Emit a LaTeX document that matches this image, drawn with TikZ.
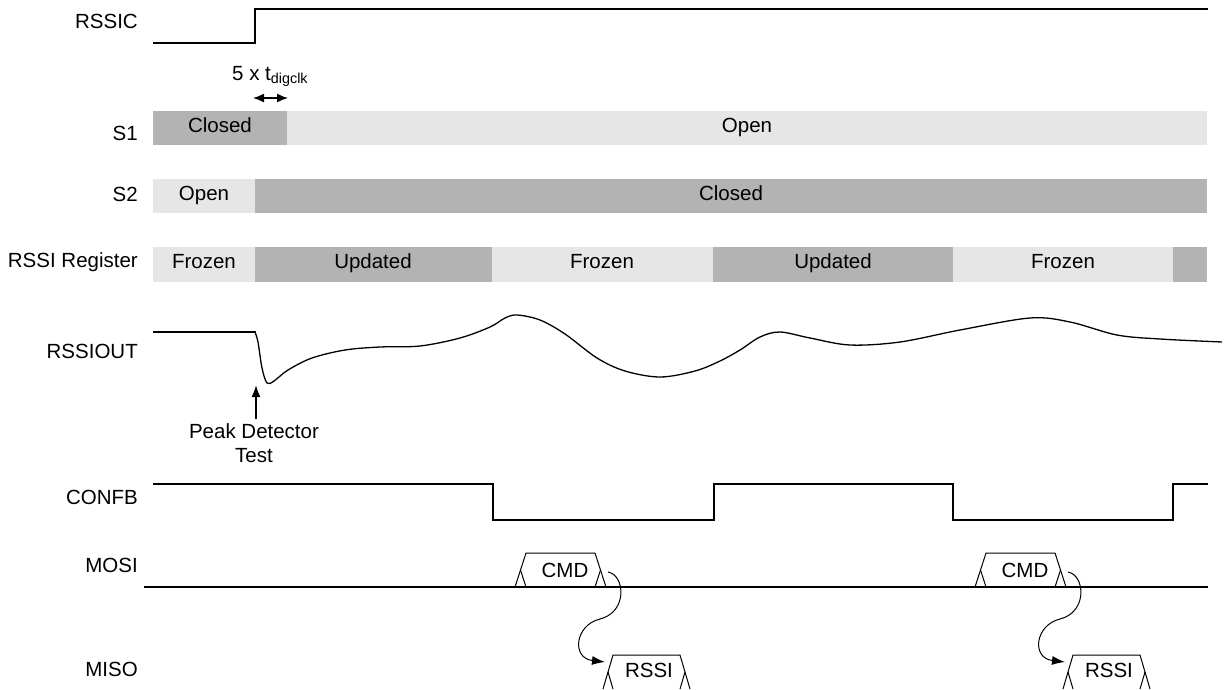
\documentclass[tikz,border=0pt]{standalone}
\usepackage{fontspec}
\setmainfont{Liberation Sans}
\usetikzlibrary{arrows.meta}
\definecolor{darkbar}{HTML}{B3B3B3}
\definecolor{lightbar}{HTML}{E6E6E6}
\begin{document}
\begin{tikzpicture}[x=1pt,y=-1pt,
  every node/.style={font=\fontsize{20.5}{24}\selectfont, inner sep=0pt},
  lbl/.style={anchor=base east},
  bartext/.style={anchor=base},
  sig/.style={line width=2.2pt, line join=miter},
  wave/.style={line width=1.3pt},
  bus/.style={line width=1pt},
  dark/.style={fill=darkbar},
  light/.style={fill=lightbar}]
\useasboundingbox (0,0) rectangle (1225,689);

% labels
\node[lbl] (lRSSIC) at (138,28) {RSSIC};
\node[lbl] (lS1) at (138,140) {S1};
\node[lbl] (lS2) at (138,201) {S2};
\node[lbl] (lREG) at (138,267) {RSSI Register};
\node[lbl] (lOUT) at (138,358) {RSSIOUT};
\node[lbl] (lCONFB) at (138,504) {CONFB};
\node[lbl] (lMOSI) at (138,572) {MOSI};
\node[lbl] (lMISO) at (138,676) {MISO};

% RSSIC
\draw[sig] (153,43) -- (255,43) -- (255,9) -- (1208,9);

% 5 x tdigclk
\node[anchor=base west] (tdig) at (232,80) {5 x t\textsubscript{digclk}};
\coordinate (da) at (253,98);
\coordinate (db) at (288,98);
\draw[line width=1.4pt, {Latex[length=11pt,width=9pt]}-{Latex[length=11pt,width=9pt]}] (da) -- (db);

% S1
\path[dark] (153,111) rectangle (287,145);
\path[light] (287,111) rectangle (1207,145);
\node[bartext] (s1a) at (220,132) {Closed};
\node[bartext] (s1b) at (747,132) {Open};

% S2
\path[light] (153,179) rectangle (255,213);
\path[dark] (255,179) rectangle (1207,213);
\node[bartext] (s2a) at (204,200) {Open};
\node[bartext] (s2b) at (731,200) {Closed};

% RSSI Register
\path[light] (153,247) rectangle (255,282);
\path[dark] (255,247) rectangle (492,282);
\path[light] (492,247) rectangle (713,282);
\path[dark] (713,247) rectangle (953,282);
\path[light] (953,247) rectangle (1173,282);
\path[dark] (1173,247) rectangle (1207,282);
\node[bartext] (r1) at (204,268) {Frozen};
\node[bartext] (r2) at (373,268) {Updated};
\node[bartext] (r3) at (602,268) {Frozen};
\node[bartext] (r4) at (833,268) {Updated};
\node[bartext] (r5) at (1063,268) {Frozen};

% RSSIOUT
\draw[sig] (153,332) -- (256,332);
\draw[wave] plot[smooth, tension=0.55] coordinates {
 (255,332) (258,342) (262,368) (267,383) (274,381) (288,370) (312,358) (345,350)
 (380,347) (420,346) (460,338) (490,327) (505,318) (517,315) (540,320) (565,334)
 (597,358) (625,371) (660,377) (695,371) (720,361) (740,350) (760,337) (780,332)
 (810,338) (850,345) (900,342) (960,330) (1030,318) (1070,322) (1117,335)
 (1160,339) (1222,342)};

% Peak detector arrow
\node[anchor=base] (pd1) at (254,438) {Peak Detector};
\node[anchor=base] (pd2) at (254,462) {Test};
\coordinate (pdtip) at (256,385);
\draw[line width=1.8pt, -{Latex[length=12pt,width=9pt]}] (pd1.north -| pdtip) ++(0,-4) -- (pdtip);

% CONFB
\draw[sig] (153,484) -- (493,484) -- (493,520) -- (714,520) -- (714,484)
  -- (953,484) -- (953,520) -- (1173,520) -- (1173,484) -- (1208,484);

% MOSI baseline
\draw[sig] (144,587) -- (1208,587);

% CMD / RSSI bus boxes
\foreach \dx/\i in {0/1,460/2} {
  \begin{scope}[xshift=\dx]
    \draw[bus, line join=round] (515,587) -- (526,553) -- (595,553) -- (606,587);
    \draw[bus] (520.5,570) -- (526,587);
    \draw[bus] (600.5,570) -- (595,587);
    \node[anchor=base] (cmd\i) at (565,577) {CMD};
    \coordinate (cmdout\i) at (608,572);
    \draw[bus, line join=round] (603,689) -- (613,655) -- (680,655) -- (690,689);
    \draw[bus] (608,672) -- (613,689);
    \draw[bus] (685,672) -- (680,689);
    \node[anchor=base] (rssi\i) at (649,677) {RSSI};
    \coordinate (rssiin\i) at (605,662);
    \draw[line width=1pt, -{Latex[length=13pt,width=9pt]}] (cmdout\i)
      .. controls (625,575) and (628,612) .. (600,619)
      .. controls (575,625) and (571,658) .. (rssiin\i);
  \end{scope}
}
\end{tikzpicture}
\end{document}
